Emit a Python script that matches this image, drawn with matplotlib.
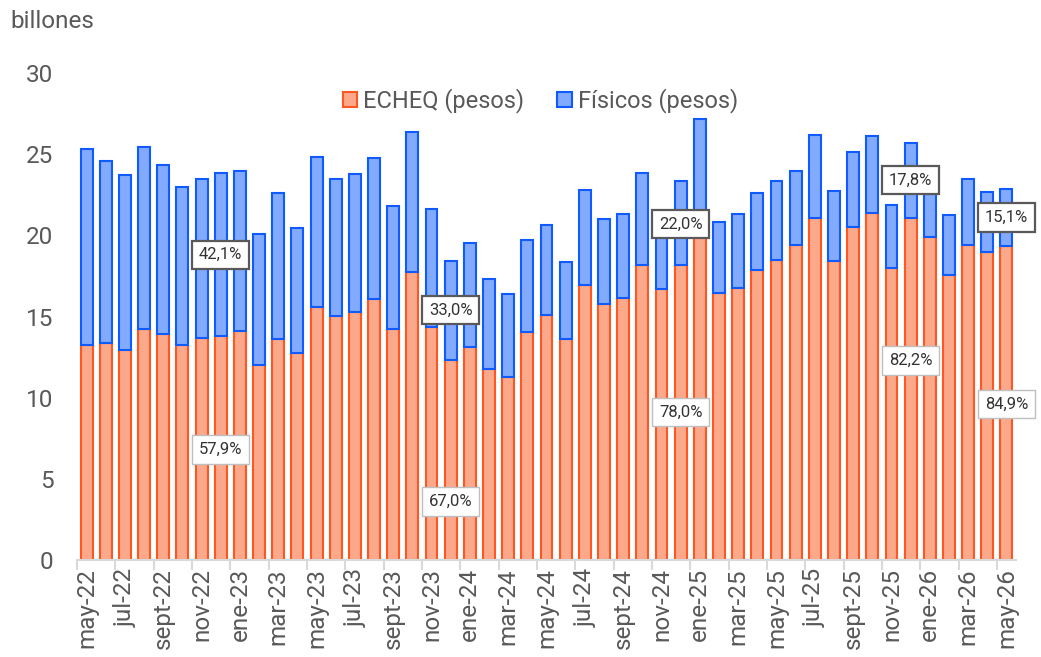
import matplotlib.pyplot as plt
import numpy as np

plt.rcParams['font.family'] = ['Roboto', 'DejaVu Sans']

months = ['may-22', 'jun-22', 'jul-22', 'ago-22', 'sept-22', 'oct-22', 'nov-22', 'dic-22',
          'ene-23', 'feb-23', 'mar-23', 'abr-23', 'may-23', 'jun-23', 'jul-23', 'ago-23',
          'sept-23', 'oct-23', 'nov-23', 'dic-23', 'ene-24', 'feb-24', 'mar-24', 'abr-24',
          'may-24', 'jun-24', 'jul-24', 'ago-24', 'sept-24', 'oct-24', 'nov-24', 'dic-24',
          'ene-25', 'feb-25', 'mar-25', 'abr-25', 'may-25', 'jun-25', 'jul-25', 'ago-25',
          'sept-25', 'oct-25', 'nov-25', 'dic-25', 'ene-26', 'feb-26', 'mar-26', 'abr-26',
          'may-26']

# billones de pesos
echeq = [13.27, 13.35, 12.94, 14.21, 13.90, 13.23, 13.66, 13.82, 14.11, 12.01, 13.64, 12.78,
         15.61, 15.03, 15.30, 16.10, 14.23, 17.75, 14.38, 12.32, 13.14, 11.77, 11.26, 14.07,
         15.10, 13.60, 16.96, 15.75, 16.16, 18.18, 16.70, 18.18, 20.90, 16.45, 16.74, 17.87,
         18.50, 19.39, 21.09, 18.42, 20.54, 21.36, 18.01, 21.07, 19.92, 17.58, 19.41, 18.98,
         19.37]
fisicos = [12.05, 11.25, 10.78, 11.26, 10.44, 9.75, 9.81, 10.05, 9.88, 8.09, 8.99, 7.65,
           9.20, 8.47, 8.50, 8.69, 7.60, 8.64, 7.25, 6.07, 6.37, 5.56, 5.13, 5.63,
           5.52, 4.78, 5.86, 5.26, 5.16, 5.69, 4.60, 5.17, 6.25, 4.40, 4.56, 4.76,
           4.85, 4.60, 5.10, 4.33, 4.60, 4.76, 3.86, 4.64, 2.63, 3.68, 4.06, 3.69,
           3.49]

share_months = ['dic-22', 'dic-23', 'dic-24', 'dic-25', 'may-26']
share_echeq = ['57,9%', '67,0%', '78,0%', '82,2%', '84,9%']
share_fisicos = ['42,1%', '33,0%', '22,0%', '17,8%', '15,1%']

gray = '#595959'
x = np.arange(len(months))

fig = plt.figure(figsize=(10.41, 6.57), dpi=100)
ax = fig.add_axes([0.074, 0.1476, 0.902, 0.7413])

ax.bar(x, echeq, width=0.62, color='#FCA88A', edgecolor='#FF5722', linewidth=1.5,
       label='ECHEQ (pesos)')
ax.bar(x, fisicos, bottom=echeq, width=0.62, color='#82AAFF', edgecolor='#0F5BFF',
       linewidth=1.5, label='Físicos (pesos)')

# share labels (positions)
echeq_y = [6.8, 3.6, 9.1, 12.3, 9.6]
fis_y = [18.8, 15.4, 20.7, 23.4, 21.1]
for m, te, tf, ye, yf in zip(share_months, share_echeq, share_fisicos, echeq_y, fis_y):
    i = months.index(m)
    ax.text(i, ye, te, ha='center', va='center', fontsize=12, color='#333333',
            bbox=dict(boxstyle='square,pad=0.4', fc='white', ec='#bfbfbf', lw=1.0))
    ax.text(i, yf, tf, ha='center', va='center', fontsize=12, color='#333333',
            bbox=dict(boxstyle='square,pad=0.4', fc='white', ec=gray, lw=1.6))

ax.set_xlim(-0.5, len(months) - 0.5)
ax.set_ylim(0, 30)
ax.set_yticks(range(0, 31, 5))
ax.set_xticks(x[::2])
ax.set_xticklabels(months[::2], rotation=90)
ax.set_xticks(np.arange(-0.5, len(months), 2), minor=True)
ax.tick_params(axis='x', which='major', length=0, pad=6, labelsize=17.5, labelcolor=gray)
ax.tick_params(axis='x', which='minor', length=7, width=1.5, color='#d9d9d9')
ax.tick_params(axis='y', length=0, pad=17, labelsize=17.5, labelcolor=gray)

for s in ['top', 'right', 'left']:
    ax.spines[s].set_visible(False)
ax.spines['bottom'].set_color('#d9d9d9')
ax.spines['bottom'].set_linewidth(1.5)

ax.legend(loc='center', bbox_to_anchor=(0.4936, 0.943), ncol=2, frameon=False, fontsize=17,
          handlelength=0.6, handleheight=0.6, handletextpad=0.25, columnspacing=1.4,
          labelcolor=gray)

fig.text(10 / 1041, 1 - 22 / 657, 'billones', fontsize=17.5, color=gray, va='center')

fig.savefig('out.png', dpi=100)
